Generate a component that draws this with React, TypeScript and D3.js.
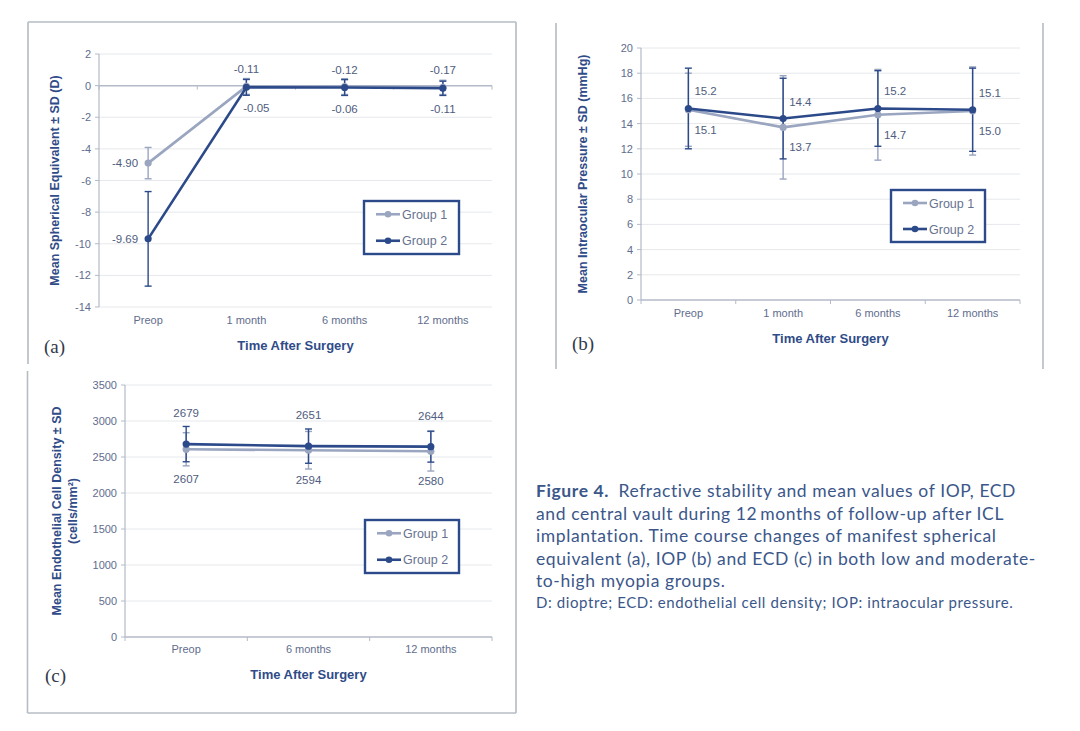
import React from 'react';
import * as d3 from 'd3';

// ---------- Data ----------
const seCategories = ['Preop', '1 month', '6 months', '12 months'];
const seGroup1 = [-4.9, -0.05, -0.06, -0.11];
const seGroup2 = [-9.69, -0.11, -0.12, -0.17];
const seGroup1SD = [0.99, 0.5, 0.5, 0.45];
const seGroup2SD = [2.99, 0.5, 0.5, 0.45];
const seTicks = [2, 0, -2, -4, -6, -8, -10, -12, -14];
const seLabels1 = ['-4.90', '-0.05', '-0.06', '-0.11'];
const seLabels2 = ['-9.69', '-0.11', '-0.12', '-0.17'];

const iopCategories = ['Preop', '1 month', '6 months', '12 months'];
const iopGroup1 = [15.1, 13.7, 14.7, 15.0];
const iopGroup2 = [15.2, 14.4, 15.2, 15.1];
const iopGroup1SD = [2.9, 4.1, 3.6, 3.5];
const iopGroup2SD = [3.2, 3.2, 3.0, 3.3];
const iopTicks = [0, 2, 4, 6, 8, 10, 12, 14, 16, 18, 20];
const iopLabels1 = ['15.1', '13.7', '14.7', '15.0'];
const iopLabels2 = ['15.2', '14.4', '15.2', '15.1'];

const ecdCategories = ['Preop', '6 months', '12 months'];
const ecdGroup1 = [2607, 2594, 2580];
const ecdGroup2 = [2679, 2651, 2644];
const ecdGroup1SD = [230, 261, 275];
const ecdGroup2SD = [245, 238, 215];
const ecdTicks = [0, 500, 1000, 1500, 2000, 2500, 3000, 3500];
const ecdLabels1 = ['2607', '2594', '2580'];
const ecdLabels2 = ['2679', '2651', '2644'];

const legendNames = ['Group 1', 'Group 2'];

const captionLines = [
  'and central vault during 12\u2009months of follow-up after ICL',
  'implantation. Time course changes of manifest spherical',
  'equivalent (a), IOP (b) and ECD (c) in both low and moderate-',
  'to-high myopia groups.',
];
const captionFirst = 'Refractive stability and mean values of IOP, ECD';
const captionNote = 'D: dioptre; ECD: endothelial cell density; IOP: intraocular pressure.';

// ---------- Style ----------
const C1 = '#9aa5c0';
const C2 = '#2c4a8a';
const TITLE = '#2f4b88';
const TICK = '#5f6d8e';
const GRID = '#e6e8eb';
const AXIS = '#b3bac8';
const FRAME = '#b5bcc4';
const FONT = '"Liberation Sans", Arial, sans-serif';

type PanelProps = {
  categories: string[];
  g1: number[];
  g2: number[];
  sd1: number[];
  sd2: number[];
  ticks: number[];
  labels1: string[];
  labels2: string[];
  domain: [number, number];
  left: number;
  right: number;
  top: number;
  bottom: number;
  axisAt: number;
  labelMode: 'a' | 'b' | 'c';
  legend: { x: number; y: number; w: number; h: number };
  yTitle: string[];
  yTitleX: number;
  xTitleY: number;
  catY: number;
  panelLabel: string;
  panelLabelX: number;
  panelLabelY: number;
};

function Panel(p: PanelProps) {
  const x = d3.scaleBand<string>().domain(p.categories).range([p.left, p.right]);
  const y = d3.scaleLinear().domain(p.domain).range([p.bottom, p.top]);
  const cx = (c: string) => (x(c) as number) + x.bandwidth() / 2;
  const line = d3
    .line<number>()
    .x((_, i) => cx(p.categories[i]))
    .y((d) => y(d));
  const axisY = y(p.axisAt);
  const series = [
    { vals: p.g1, sd: p.sd1, color: C1, labels: p.labels1, idx: 0 },
    { vals: p.g2, sd: p.sd2, color: C2, labels: p.labels2, idx: 1 },
  ];
  const boundaries = p.categories.map((c) => x(c) as number).concat([p.right]);
  const midY = (p.top + p.bottom) / 2;

  const labelPos = (s: number, i: number, v: number) => {
    const px = cx(p.categories[i]);
    const py = y(v);
    if (p.labelMode === 'a') {
      if (i === 0) return { x: px - 10, y: py + 4, anchor: 'end' };
      return s === 1
        ? { x: px, y: py - 14, anchor: 'middle' }
        : { x: px + (i === 1 ? 10 : 0), y: py + 26, anchor: 'middle' };
    }
    if (p.labelMode === 'b') {
      return s === 1
        ? { x: px + 6, y: py - 13, anchor: 'start' }
        : { x: px + 6, y: py + 24, anchor: 'start' };
    }
    return s === 1
      ? { x: px, y: py - 27, anchor: 'middle' }
      : { x: px, y: py + 34, anchor: 'middle' };
  };

  return (
    <g>
      {p.ticks.map((t) => (
        <g key={'t' + t}>
          {t !== p.axisAt && (
            <line x1={p.left} x2={p.right} y1={y(t)} y2={y(t)} stroke={GRID} strokeWidth={1} />
          )}
          <line x1={p.left - 4} x2={p.left} y1={y(t)} y2={y(t)} stroke={AXIS} strokeWidth={1} />
          <text
            x={p.left - 8}
            y={y(t) + 4}
            textAnchor="end"
            fontFamily={FONT}
            fontSize={11}
            fill={TICK}
          >
            {t}
          </text>
        </g>
      ))}
      <line x1={p.left} x2={p.left} y1={p.top} y2={p.bottom} stroke={AXIS} strokeWidth={1.2} />
      <line x1={p.left} x2={p.right} y1={axisY} y2={axisY} stroke={AXIS} strokeWidth={1.5} />
      {boundaries.map((b, i) => (
        <line key={'b' + i} x1={b} x2={b} y1={axisY} y2={axisY + 4} stroke={AXIS} strokeWidth={1} />
      ))}
      {p.categories.map((c) => (
        <text
          key={'c' + c}
          x={cx(c)}
          y={p.catY + 4}
          textAnchor="middle"
          fontFamily={FONT}
          fontSize={11}
          fill={TICK}
        >
          {c}
        </text>
      ))}
      {series.map((s) => (
        <g key={'s' + s.idx}>
          {s.vals.map((v, i) => {
            const px = cx(p.categories[i]);
            const y1 = y(v - s.sd[i]);
            const y2 = y(v + s.sd[i]);
            return (
              <g key={'e' + i} stroke={s.color} strokeWidth={1.4}>
                <line x1={px} x2={px} y1={y1} y2={y2} />
                <line x1={px - 3.5} x2={px + 3.5} y1={y1} y2={y1} />
                <line x1={px - 3.5} x2={px + 3.5} y1={y2} y2={y2} />
              </g>
            );
          })}
        </g>
      ))}
      {series.map((s) => (
        <g key={'l' + s.idx}>
          <path d={line(s.vals) || ''} fill="none" stroke={s.color} strokeWidth={2.6} />
          {s.vals.map((v, i) => (
            <circle key={i} cx={cx(p.categories[i])} cy={y(v)} r={3.6} fill={s.color} />
          ))}
        </g>
      ))}
      {series.map((s) =>
        s.vals.map((v, i) => {
          const lp = labelPos(s.idx, i, v);
          return (
            <text
              key={'dl' + s.idx + i}
              x={lp.x}
              y={lp.y}
              textAnchor={lp.anchor as any}
              fontFamily={FONT}
              fontSize={11.5}
              fill="#4f5d80"
            >
              {s.labels[i]}
            </text>
          );
        })
      )}
      {/* legend */}
      <rect
        x={p.legend.x}
        y={p.legend.y}
        width={p.legend.w}
        height={p.legend.h}
        fill="#fff"
        stroke={C2}
        strokeWidth={2.4}
      />
      {legendNames.map((n, i) => {
        const ly = p.legend.y + p.legend.h * (i === 0 ? 0.25 : 0.75);
        const color = i === 0 ? C1 : C2;
        const lx = p.legend.x + 12;
        return (
          <g key={'lg' + i}>
            <line x1={lx} x2={lx + 24} y1={ly} y2={ly} stroke={color} strokeWidth={2.6} />
            <circle cx={lx + 12} cy={ly} r={3.3} fill={color} />
            <text x={lx + 26} y={ly + 4.5} fontFamily={FONT} fontSize={12.5} fill="#66728f">
              {n}
            </text>
          </g>
        );
      })}
      {/* titles */}
      <text
        transform={`translate(${p.yTitleX - (p.yTitle.length - 1) * 8},${midY}) rotate(-90)`}
        textAnchor="middle"
        fontFamily={FONT}
        fontSize={12.5}
        fontWeight="bold"
        fill={TITLE}
      >
        {p.yTitle.map((t, i) => (
          <tspan key={i} x={0} dy={i === 0 ? 0 : 16}>
            {t}
          </tspan>
        ))}
      </text>
      <text
        x={(p.left + p.right) / 2}
        y={p.xTitleY + 4}
        textAnchor="middle"
        fontFamily={FONT}
        fontSize={13}
        fontWeight="bold"
        fill={TITLE}
      >
        Time After Surgery
      </text>
      <text
        x={p.panelLabelX}
        y={p.panelLabelY}
        fontFamily='"Liberation Serif", "DejaVu Serif", serif'
        fontSize={19}
        fill="#333a4a"
      >
        {p.panelLabel}
      </text>
    </g>
  );
}

export default function App() {
  return (
    <svg
      width={1080}
      height={731}
      style={{ position: 'absolute', left: 0, top: 0, background: '#fff' }}
    >
      {/* frames */}
      <g stroke={FRAME} strokeWidth={1.6} fill="none">
        <line x1={28} x2={516} y1={22} y2={22} />
        <line x1={28} x2={28} y1={22} y2={364} />
        <line x1={27.5} x2={27.5} y1={371} y2={713} />
        <line x1={516} x2={516} y1={22} y2={713} />
        <line x1={27.5} x2={516} y1={713} y2={713} />
        <line x1={556} x2={556} y1={23} y2={369} />
        <line x1={1043} x2={1043} y1={23} y2={369} />
      </g>

      <Panel
        categories={seCategories}
        g1={seGroup1}
        g2={seGroup2}
        sd1={seGroup1SD}
        sd2={seGroup2SD}
        ticks={seTicks}
        labels1={seLabels1}
        labels2={seLabels2}
        domain={[-14, 2]}
        left={99}
        right={492}
        top={54}
        bottom={307}
        axisAt={0}
        labelMode="a"
        legend={{ x: 364, y: 201, w: 95, h: 53 }}
        yTitle={['Mean Spherical Equivalent \u00b1 SD (D)']}
        yTitleX={59}
        xTitleY={346}
        catY={320}
        panelLabel="(a)"
        panelLabelX={44}
        panelLabelY={353}
      />

      <Panel
        categories={iopCategories}
        g1={iopGroup1}
        g2={iopGroup2}
        sd1={iopGroup1SD}
        sd2={iopGroup2SD}
        ticks={iopTicks}
        labels1={iopLabels1}
        labels2={iopLabels2}
        domain={[0, 20]}
        left={641}
        right={1020}
        top={48}
        bottom={300}
        axisAt={0}
        labelMode="b"
        legend={{ x: 891, y: 190, w: 94, h: 52 }}
        yTitle={['Mean Intraocular Pressure \u00b1 SD (mmHg)']}
        yTitleX={587}
        xTitleY={339}
        catY={313}
        panelLabel="(b)"
        panelLabelX={572}
        panelLabelY={350}
      />

      <Panel
        categories={ecdCategories}
        g1={ecdGroup1}
        g2={ecdGroup2}
        sd1={ecdGroup1SD}
        sd2={ecdGroup2SD}
        ticks={ecdTicks}
        labels1={ecdLabels1}
        labels2={ecdLabels2}
        domain={[0, 3500]}
        left={125}
        right={492}
        top={385}
        bottom={637}
        axisAt={0}
        labelMode="c"
        legend={{ x: 365, y: 520, w: 94, h: 53 }}
        yTitle={['Mean Endothelial Cell Density \u00b1 SD', '(cells/mm\u00b2)']}
        yTitleX={69}
        xTitleY={675}
        catY={649}
        panelLabel="(c)"
        panelLabelX={45}
        panelLabelY={682}
      />

      {/* caption */}
      <g fontFamily='Lato, "Open Sans", sans-serif' fill="#3b578a">
        <text x={536} y={497} fontSize={17.5} letterSpacing={0.6}>
          <tspan fontWeight="bold">Figure 4.</tspan>
          <tspan>{'\u2002' + captionFirst}</tspan>
        </text>
        {captionLines.map((l, i) => (
          <text key={i} x={536} y={519.5 + i * 22.6} fontSize={17.5} letterSpacing={0.6}>
            {l}
          </text>
        ))}
        <text x={536} y={608} fontSize={15} letterSpacing={0.6}>
          {captionNote}
        </text>
      </g>
    </svg>
  );
}
